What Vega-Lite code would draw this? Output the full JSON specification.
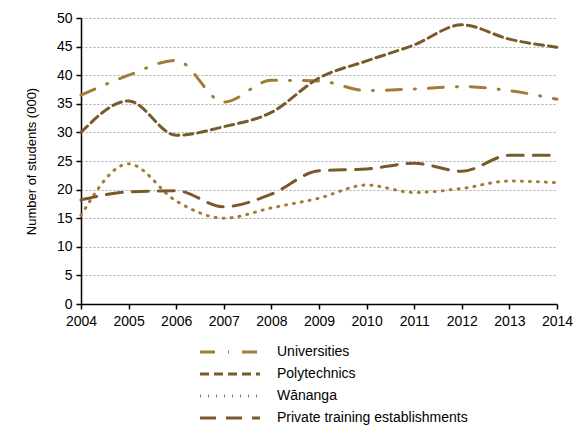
{
  "$schema": "https://vega.github.io/schema/vega-lite/v6.json",
  "width": 476,
  "height": 286,
  "autosize": {"type": "none"},
  "padding": {"left": 81, "top": 18, "right": 30, "bottom": 123},
  "config": {
    "font": "Liberation Sans",
    "view": {"stroke": null},
    "axis": {"labelFont": "Liberation Sans", "titleFont": "Liberation Sans", "labelColor": "#000", "titleColor": "#000", "domainColor": "#000", "tickColor": "#000", "labelFontSize": 14}
  },
  "data": {"values": [
    {"year": 2004, "type": "Universities", "v": 36.5},
    {"year": 2005, "type": "Universities", "v": 40.0},
    {"year": 2006, "type": "Universities", "v": 42.6},
    {"year": 2007, "type": "Universities", "v": 35.3},
    {"year": 2008, "type": "Universities", "v": 39.1},
    {"year": 2009, "type": "Universities", "v": 39.0},
    {"year": 2010, "type": "Universities", "v": 37.3},
    {"year": 2011, "type": "Universities", "v": 37.6},
    {"year": 2012, "type": "Universities", "v": 38.0},
    {"year": 2013, "type": "Universities", "v": 37.3},
    {"year": 2014, "type": "Universities", "v": 35.8},
    {"year": 2004, "type": "Polytechnics", "v": 30.0},
    {"year": 2005, "type": "Polytechnics", "v": 35.5},
    {"year": 2006, "type": "Polytechnics", "v": 29.5},
    {"year": 2007, "type": "Polytechnics", "v": 31.0},
    {"year": 2008, "type": "Polytechnics", "v": 33.5},
    {"year": 2009, "type": "Polytechnics", "v": 39.5},
    {"year": 2010, "type": "Polytechnics", "v": 42.5},
    {"year": 2011, "type": "Polytechnics", "v": 45.3},
    {"year": 2012, "type": "Polytechnics", "v": 48.8},
    {"year": 2013, "type": "Polytechnics", "v": 46.3},
    {"year": 2014, "type": "Polytechnics", "v": 44.9},
    {"year": 2004, "type": "Wānanga", "v": 15.5},
    {"year": 2005, "type": "Wānanga", "v": 24.5},
    {"year": 2006, "type": "Wānanga", "v": 18.0},
    {"year": 2007, "type": "Wānanga", "v": 15.0},
    {"year": 2008, "type": "Wānanga", "v": 16.8},
    {"year": 2009, "type": "Wānanga", "v": 18.5},
    {"year": 2010, "type": "Wānanga", "v": 20.8},
    {"year": 2011, "type": "Wānanga", "v": 19.5},
    {"year": 2012, "type": "Wānanga", "v": 20.2},
    {"year": 2013, "type": "Wānanga", "v": 21.5},
    {"year": 2014, "type": "Wānanga", "v": 21.2},
    {"year": 2004, "type": "Private training establishments", "v": 18.2},
    {"year": 2005, "type": "Private training establishments", "v": 19.6},
    {"year": 2006, "type": "Private training establishments", "v": 19.8},
    {"year": 2007, "type": "Private training establishments", "v": 17.0},
    {"year": 2008, "type": "Private training establishments", "v": 19.2},
    {"year": 2009, "type": "Private training establishments", "v": 23.3},
    {"year": 2010, "type": "Private training establishments", "v": 23.6},
    {"year": 2011, "type": "Private training establishments", "v": 24.6},
    {"year": 2012, "type": "Private training establishments", "v": 23.2},
    {"year": 2013, "type": "Private training establishments", "v": 26.0},
    {"year": 2014, "type": "Private training establishments", "v": 26.0}
  ]},
  "mark": {"type": "line", "interpolate": "monotone", "strokeWidth": 3, "strokeCap": "round"},
  "encoding": {
    "x": {"field": "year", "type": "quantitative",
      "scale": {"domain": [2004, 2014], "nice": false, "zero": false},
      "axis": {"title": null, "format": "d", "values": [2004,2005,2006,2007,2008,2009,2010,2011,2012,2013,2014], "grid": false, "tickSize": 5, "labelPadding": 5, "labelFlush": false, "labelOverlap": false, "domainWidth": 1.5, "tickWidth": 1.5}},
    "y": {"field": "v", "type": "quantitative",
      "scale": {"domain": [0, 50], "nice": false},
      "axis": {"title": "Number of students  (000)", "titleFontSize": 13, "titleFontWeight": "normal", "titlePadding": 18, "values": [0,5,10,15,20,25,30,35,40,45,50], "tickSize": 5, "labelPadding": 4, "labelFlush": false, "labelOverlap": false, "domainWidth": 1.5, "tickWidth": 1.5, "gridColor": "#aaaaaa", "gridDash": [2, 2], "gridWidth": 1.2}},
    "color": {"field": "type", "type": "nominal",
      "scale": {"domain": ["Universities", "Polytechnics", "Wānanga", "Private training establishments"], "range": ["#a27c34", "#7a5a2a", "#a27c34", "#7a5a2a"]},
      "legend": {"title": null, "orient": "none", "legendX": 140, "legendY": 325, "symbolType": "M-4,0H4", "symbolSize": 225, "symbolStrokeWidth": 3, "labelFontSize": 14, "labelColor": "#000", "rowPadding": 6, "labelOffset": 38, "labelLimit": 400}},
    "strokeDash": {"field": "type", "type": "nominal",
      "scale": {"domain": ["Universities", "Polytechnics", "Wānanga", "Private training establishments"], "range": [[15, 13, 1, 13], [9, 5], [1, 7], [16, 10]]},
      "legend": {"title": null}}
  }
}
